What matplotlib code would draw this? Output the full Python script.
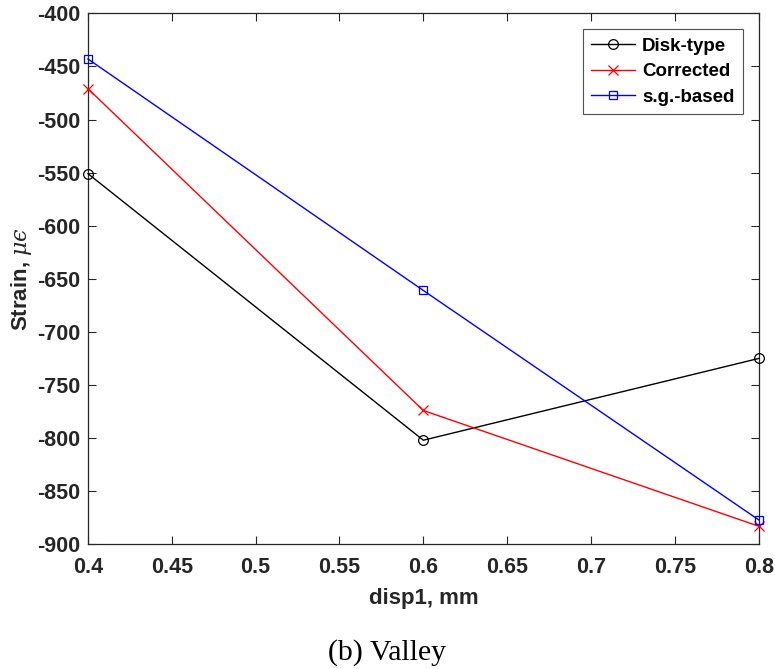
import matplotlib
matplotlib.use("Agg")
import matplotlib.pyplot as plt

disp = [0.4, 0.6, 0.8]
disk_type = [-551, -802, -725]
corrected = [-471, -774, -883]
sg_based = [-443, -661, -877]

x_ticks = [0.4, 0.45, 0.5, 0.55, 0.6, 0.65, 0.7, 0.75, 0.8]
x_tick_labels = ["0.4", "0.45", "0.5", "0.55", "0.6", "0.65", "0.7", "0.75", "0.8"]
y_ticks = [-900, -850, -800, -750, -700, -650, -600, -550, -500, -450, -400]

plt.rcParams['font.family'] = ['Liberation Sans', 'DejaVu Sans']
plt.rcParams['mathtext.fontset'] = 'dejavuserif'
plt.rcParams['axes.unicode_minus'] = False

fig = plt.figure(figsize=(7.75, 6.69), dpi=100)
ax = fig.add_axes([0.1135, 0.1864, 0.8655, 0.7937])

ax.plot(disp, disk_type, color='black', lw=1.0, marker='o', ms=7, mfc='none',
        mec='black', mew=0.9, label='Disk-type', clip_on=False, zorder=3)
ax.plot(disp, corrected, color='red', lw=1.0, marker='x', ms=7, mec='red',
        mew=0.9, label='Corrected', clip_on=False, zorder=3)
ax.plot(disp, sg_based, color='blue', lw=1.0, marker='s', ms=6, mfc='none',
        mec='blue', mew=0.9, label='s.g.-based', clip_on=False, zorder=3)

ax.set_xlim(0.4, 0.8)
ax.set_ylim(-900, -400)
ax.set_xticks(x_ticks)
ax.set_xticklabels(x_tick_labels)
ax.set_yticks(y_ticks)

axis_color = '#262626'
for s in ax.spines.values():
    s.set_color(axis_color)
    s.set_linewidth(0.9)
ax.tick_params(direction='in', top=True, right=True, length=6, width=0.8,
               color=axis_color, labelcolor=axis_color, labelsize=15.5)
ax.tick_params(axis='x', pad=9.5)
ax.tick_params(axis='y', pad=5.5)
for lbl in ax.get_xticklabels() + ax.get_yticklabels():
    lbl.set_fontweight('bold')

ax.set_xlabel('disp1, mm', fontsize=16, fontweight='bold', color=axis_color, labelpad=6.5)
ax.set_ylabel('Strain, $\\mu\u03f5$', fontsize=16, fontweight='bold', color=axis_color, labelpad=2)

leg = ax.legend(loc='upper right', bbox_to_anchor=(0.982, 0.977),
                prop={'weight': 'bold', 'size': 13.5}, frameon=True, fancybox=False,
                edgecolor=axis_color, borderpad=0.45, labelspacing=0.45,
                handlelength=2.3, handletextpad=0.4, borderaxespad=0.2)
leg.get_frame().set_linewidth(0.8)

fig.text(0.5, 0.004, '(b) Valley', ha='center', va='bottom', fontsize=21.5,
         family=['Liberation Serif', 'DejaVu Serif'])

fig.savefig('out.png', dpi=100)
